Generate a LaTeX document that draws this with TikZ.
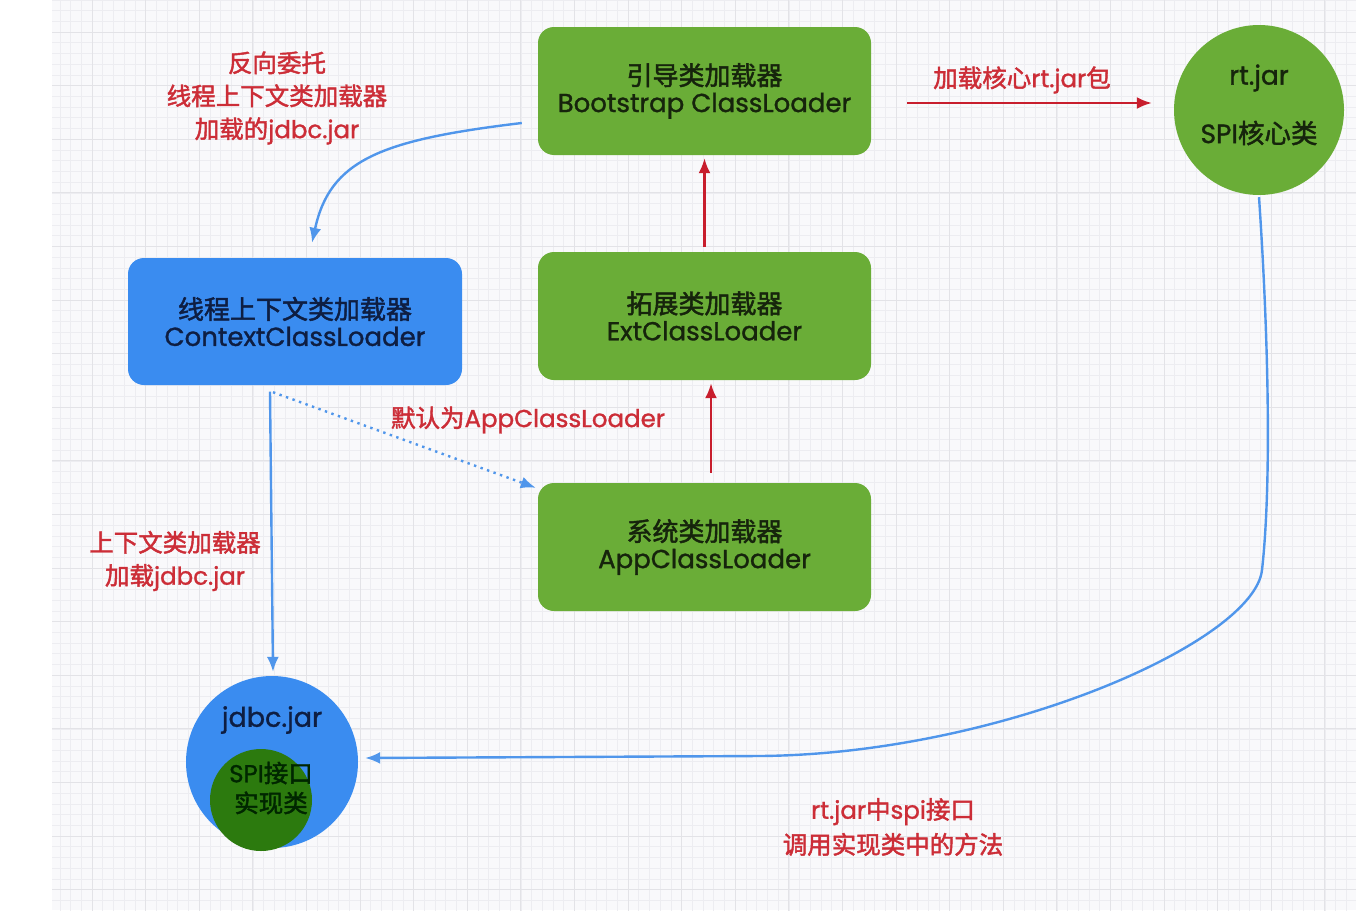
\documentclass[tikz,border=0pt]{standalone}
\usepackage{fontspec}
\setmainfont{Poppins}[FakeBold=1.2]
\newfontfamily\cjk{Noto Sans CJK SC}[FakeBold=1.8]
\newcommand\cn[1]{{\cjk #1}}
\usetikzlibrary{arrows.meta}
\definecolor{boxgreen}{RGB}{106,173,55}
\definecolor{jblue}{RGB}{58,140,240}
\definecolor{innergreen}{RGB}{44,122,14}
\definecolor{lblred}{RGB}{204,45,55}
\definecolor{arrred}{RGB}{200,30,45}
\definecolor{arrblue}{RGB}{80,150,235}
\definecolor{gridbg}{RGB}{249,249,251}
\definecolor{gridminor}{RGB}{237,237,241}
\definecolor{gridmajor}{RGB}{227,227,231}
\definecolor{boxtext}{RGB}{22,36,12}
\definecolor{ctxtext}{RGB}{14,30,66}
\tikzset{
  greenbox/.style={fill=boxgreen, rounded corners=16pt, minimum width=333pt, minimum height=128pt, align=center, text=boxtext, font=\fontsize{26}{27}\selectfont, inner sep=0pt},
  bluebox/.style={fill=jblue, rounded corners=16pt, minimum width=334pt, minimum height=127pt, align=center, text=ctxtext, font=\fontsize{26}{27}\selectfont, inner sep=0pt},
  lbl/.style={text=lblred, align=center, font=\fontsize{24.5}{33}\selectfont, inner sep=0pt},
  redarrow/.style={draw=arrred, line width=2.4pt, -{Latex[length=15pt,width=12pt]}},
  bluearrow/.style={draw=arrblue, line width=2.4pt, -{Latex[length=15pt,width=12pt]}},
  dotarrow/.style={draw=arrblue, line width=2.4pt, dash pattern=on 2.4pt off 4.5pt, -{Latex[length=15pt,width=12pt]}},
}
\begin{document}
\begin{tikzpicture}[x=1pt,y=-1pt]
\useasboundingbox (0,0) rectangle (1356,910);
\fill[white] (0,0) rectangle (1356,910);
\fill[gridbg] (52,0) rectangle (1356,910);
\begin{scope}
\clip (52,0) rectangle (1356,910);
\draw[gridminor, line width=0.6pt, shift={(38.4,32)}, xstep=10.72pt, ystep=10.72pt] (-60,-60) grid (1340,900);
\draw[gridmajor, line width=0.8pt, shift={(38.4,32)}, xstep=53.6pt, ystep=53.6pt] (-60,-60) grid (1340,900);
\end{scope}

% boxes
\node[greenbox] (boot) at (704.5,91) {\cn{引导类加载器}\\Bootstrap ClassLoader};
\node[greenbox] (ext) at (704.5,316) {\cn{拓展类加载器}\\ExtClassLoader};
\node[greenbox] (app) at (704.5,547) {\cn{系统类加载器}\\AppClassLoader};
\node[bluebox] (ctx) at (295,321.5) {\cn{线程上下文类加载器}\\ContextClassLoader};

% circles
\node[circle, fill=boxgreen, minimum size=170pt, inner sep=0pt] (rt) at (1259,110) {};
\node[text=boxtext, font=\fontsize{26.5}{27}\selectfont] (rtl1) at (1259,78) {rt.jar};
\node[text=boxtext, font=\fontsize{26.5}{27}\selectfont] (rtl2) at (1259,133) {SPI\cn{核心类}};

\node[circle, fill=jblue, minimum size=172pt, inner sep=0pt] (jdbc) at (272,762) {};
\node[circle, fill=innergreen, minimum size=102pt, inner sep=0pt] (spi) at (261,800) {};
\node[text=ctxtext, font=\fontsize{27}{27}\selectfont] (jdbcl) at (272,720) {jdbc.jar};
\node[text=black!85!green, font=\fontsize{24.5}{30}\selectfont, align=center] (spil) at (271,788) {SPI\cn{接口}\\\cn{实现类}};

% labels
\node[lbl] (l1) at (277,98) {\cn{反向委托}\\\cn{线程上下文类加载器}\\\cn{加载的}jdbc.jar};
\node[lbl] (l2) at (1022,80) {\cn{加载核心}rt.jar\cn{包}};
\node[lbl] (l3) at (528,420) {\cn{默认为}AppClassLoader};
\node[lbl] (l4) at (175,561) {\cn{上下文类加载器}\\\cn{加载}jdbc.jar};
\node[lbl, font=\fontsize{24.5}{35}\selectfont] (l5) at (893,827) {rt.jar\cn{中}spi\cn{接口}\\\cn{调用实现类中的方法}};

% red arrows
\draw[redarrow, shorten <=5pt, shorten >=3pt] (ext.north) -- (boot.south);
\draw[redarrow, shorten <=10pt, shorten >=3pt] ([xshift=6.5pt]app.north) -- ([xshift=6.5pt]ext.south);
\draw[redarrow] ([shift={(36,12)}]boot.east) -- ([shift={(-22,-7)}]rt.west);

% blue arrows
\draw[bluearrow] ([shift={(-16,32)}]boot.west) .. controls (380,140) and (330,160) .. ([shift={(17,-15)}]ctx.north);
\draw[bluearrow] ([shift={(-25,6.5)}]ctx.south) -- ([shift={(1,-4)}]jdbc.north);
\draw[dotarrow] ([shift={(-22,7)}]ctx.south) -- ([shift={(-2,5)}]app.north west);
\draw[bluearrow] ([shift={(0,2)}]rt.south) .. controls (1268,330) and (1272,480) .. (1262,570) .. controls (1254,642) and (1000,754) .. (760,756) -- ([shift={(7,-4)}]jdbc.east);
\end{tikzpicture}
\end{document}
